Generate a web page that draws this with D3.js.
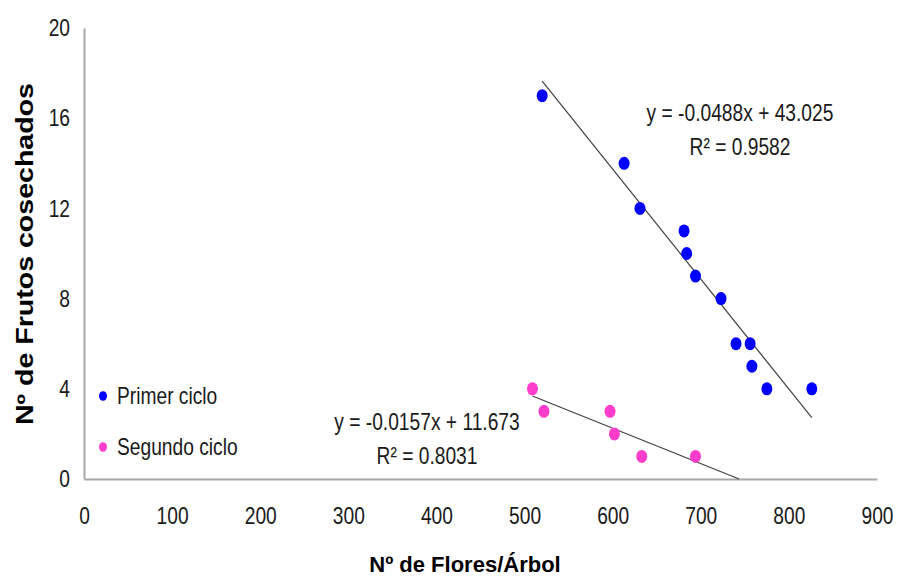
<!DOCTYPE html>
<html>
<head>
<meta charset="utf-8">
<script src="https://cdn.jsdelivr.net/npm/d3@7"></script>
<style>
  body { margin: 0; background: #fff; }
  text { font-family: "Liberation Sans", Arial, sans-serif; }
</style>
</head>
<body>
<script>
// data
const primerX = [520, 613, 631, 681, 684, 694, 723, 740, 756, 758, 775, 826];
const primerY = [17, 14, 12, 11, 10, 9, 8, 6, 6, 5, 4, 4];
const segundoX = [509, 522, 597, 602, 633, 694];
const segundoY = [4, 3, 3, 2, 1, 1];

const seriesNames = ["Primer ciclo", "Segundo ciclo"];
const seriesColors = ["#0000ff", "#ff3dcc"];
const slopes = [-0.0488, -0.0157];
const intercepts = [43.025, 11.673];
const r2Labels = ["0.9582", "0.8031"];
const xTicks = [0, 100, 200, 300, 400, 500, 600, 700, 800, 900];
const yTicks = [0, 4, 8, 12, 16, 20];

const width = 898, height = 578;
const squeezeK = 0.8;
const fs = 24;

const svg = d3.select("body").append("svg")
  .attr("width", width)
  .attr("height", height);

const x = d3.scaleLinear().domain([0, 900]).range([84, 877]);
const y = d3.scaleLinear().domain([0, 20]).range([479, 28]);

// narrow the text a bit, the source font is condensed
function squeeze(sel) {
  sel.each(function() {
    const w = this.getComputedTextLength();
    d3.select(this).attr("textLength", w * squeezeK).attr("lengthAdjust", "spacingAndGlyphs");
  });
}

// axes
const xAxis = svg.append("g")
  .attr("transform", `translate(0,${y(0)})`)
  .call(d3.axisBottom(x).tickValues(xTicks).tickSize(0).tickPadding(0));
xAxis.select(".domain").attr("stroke", "#a6a6a6").attr("stroke-width", 2);
xAxis.selectAll("text")
  .attr("y", 45).attr("dy", null)
  .attr("font-size", fs).attr("fill", "#1a1a1a")
  .call(squeeze);

const yAxis = svg.append("g")
  .attr("transform", `translate(${x(0)},0)`)
  .call(d3.axisLeft(y).tickValues(yTicks).tickSize(0).tickPadding(14));
yAxis.select(".domain").attr("stroke", "#a6a6a6").attr("stroke-width", 2);
yAxis.selectAll("text")
  .attr("font-size", fs).attr("fill", "#1a1a1a")
  .call(squeeze);

// axis titles
svg.append("text")
  .attr("x", 465).attr("y", 572)
  .attr("text-anchor", "middle")
  .attr("font-size", 22).attr("font-weight", "bold")
  .text("Nº de Flores/Árbol");

svg.append("text")
  .attr("transform", "translate(33,254) rotate(-90)")
  .attr("text-anchor", "middle")
  .attr("font-size", 23).attr("font-weight", "bold")
  .attr("textLength", 342).attr("lengthAdjust", "spacingAndGlyphs")
  .text("Nº de Frutos cosechados");

// trendlines
const xs = [primerX, segundoX];
const ys = [primerY, segundoY];
const lineEnds = [
  [d3.min(primerX), d3.max(primerX)],
  [d3.min(segundoX), -intercepts[1] / slopes[1]]
];
lineEnds.forEach((ext, i) => {
  svg.append("line")
    .attr("x1", x(ext[0])).attr("y1", y(slopes[i] * ext[0] + intercepts[i]))
    .attr("x2", x(ext[1])).attr("y2", y(slopes[i] * ext[1] + intercepts[i]))
    .attr("stroke", "#404040").attr("stroke-width", 1.2);
});

// points
xs.forEach((arr, i) => {
  svg.append("g").selectAll("ellipse")
    .data(arr.map((v, j) => [v, ys[i][j]]))
    .join("ellipse")
    .attr("cx", d => x(d[0]))
    .attr("cy", d => y(d[1]))
    .attr("rx", 5.5).attr("ry", 6.5)
    .attr("fill", seriesColors[i]);
});

// equations
const eqPos = [[740, 121], [427, 430]];
eqPos.forEach((p, i) => {
  const g = svg.append("g").attr("font-size", fs).attr("fill", "#1a1a1a");
  g.append("text")
    .attr("x", p[0]).attr("y", p[1])
    .attr("text-anchor", "middle")
    .text(`y = ${slopes[i]}x + ${intercepts[i].toFixed(3)}`)
    .call(squeeze);
  g.append("text")
    .attr("x", p[0]).attr("y", p[1] + 34)
    .attr("text-anchor", "middle")
    .text(`R² = ${r2Labels[i]}`)
    .call(squeeze);
});

// legend
const legend = svg.append("g").attr("transform", "translate(103,396)");
seriesNames.forEach((name, i) => {
  const row = legend.append("g").attr("transform", `translate(0,${i * 51})`);
  row.append("ellipse").attr("rx", 4).attr("ry", 4.8).attr("fill", seriesColors[i]);
  row.append("text")
    .attr("x", 14).attr("y", 8)
    .attr("font-size", fs).attr("fill", "#1a1a1a")
    .text(name)
    .call(squeeze);
});
</script>
</body>
</html>
